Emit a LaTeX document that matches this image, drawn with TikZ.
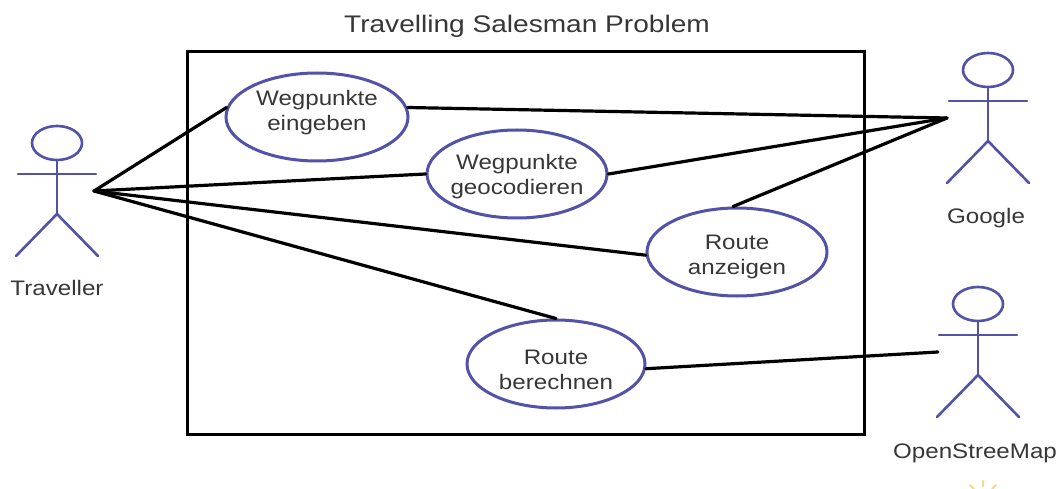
\documentclass[tikz,border=0pt]{standalone}
\usepackage{fontspec}
\setmainfont{Liberation Sans}
\newfontfamily\lblfont[FakeStretch=1.15]{Liberation Sans}
\newfontfamily\ttlfont[FakeStretch=1.17]{Liberation Sans}
\usetikzlibrary{shapes.geometric}
\definecolor{umlblue}{RGB}{82,82,168}
\definecolor{lbl}{RGB}{55,55,55}
\definecolor{sunc}{RGB}{250,215,130}
\tikzset{
  usecase/.style={ellipse,draw=umlblue,line width=3pt,fill=white,minimum width=#1,minimum height=88pt,inner sep=0pt},
  usecase/.default=180pt,
  uctext/.style={align=center,text=lbl,inner sep=0pt,font=\lblfont\fontsize{21}{25}\selectfont},
  link/.style={draw=black,line width=3.2pt,line cap=round},
  limb/.style={draw=umlblue,line width=2.6pt,line cap=round},
  actorlabel/.style={text=lbl,font=\lblfont\fontsize{21}{24}\selectfont,inner sep=0pt,anchor=center},
  frame/.style={draw=black,line width=3pt,fill=none},
}
\newcommand{\stick}[4]{% name, head x, head y, unused
  \node[ellipse,limb,minimum width=50pt,minimum height=34pt,inner sep=0pt] (#1head) at (#2,#3) {};
  \coordinate (#1hip) at (#2,#3+71);
  \coordinate (#1la) at (#2-39,#3+31);
  \coordinate (#1ra) at (#2+39,#3+31);
  \coordinate (#1ll) at (#2-41,#3+113);
  \coordinate (#1rl) at (#2+41,#3+113);
  \draw[limb] (#1head.south) -- (#1hip);
  \draw[limb] (#1la) -- (#1ra);
  \draw[limb] (#1ll) -- (#1hip) -- (#1rl);
}
\begin{document}
\begin{tikzpicture}[x=1pt,y=-1pt]
\useasboundingbox (0,0) rectangle (1058,489);
\fill[white] (0,0) rectangle (1058,489);
\node[frame,minimum width=677pt,minimum height=382pt,inner sep=0pt] (sys) at (525.5,243) {};
\node[text=lbl,font=\ttlfont\fontsize{24}{27}\selectfont,inner sep=0pt] (title) at (527,26) {Travelling Salesman Problem};

\coordinate (thub) at (94,191);
\coordinate (ghub) at (947,118);
\coordinate (ohub) at (938,352);

\node[usecase=182pt] (uc1) at (317,117) {};
\node[usecase=180pt] (uc2) at (517,174) {};
\node[usecase=180pt] (uc3) at (737,252) {};
\node[usecase=178pt] (uc4) at (556,364) {};
\node[uctext] (uc1t) at (317,112.5) {Wegpunkte\\eingeben};
\node[uctext] (uc2t) at (517,176.5) {Wegpunkte\\geocodieren};
\node[uctext] (uc3t) at (737,257) {Route\\anzeigen};
\node[uctext] (uc4t) at (556,370) {Route\\berechnen};

\draw[link] (thub) -- (uc1.174);
\draw[link] (thub) -- (uc2.west);
\draw[link] (thub) -- (uc3.182.6);
\draw[link] (thub) -- (uc4.north);
\draw[link] (ghub) -- (uc1.6);
\draw[link] (ghub) -- (uc2.east);
\draw[link] (ghub) -- (uc3.95);
\draw[link] (ohub) -- (uc4.357);

\stick{trav}{57}{143}{}
\stick{goog}{988}{70}{}
\stick{osm}{978}{304}{}
\node[actorlabel] (ltrav) at (57,288) {Traveller};
\node[actorlabel] (lgoog) at (986,218) {Google};
\node[actorlabel] (losm) at (975,453) {OpenStreeMap};

\begin{scope}
\clip (0,0) rectangle (1058,489);
\draw[sunc,line width=2pt,line cap=round] (983,486) -- (983,481) (974,489) -- (970,485) (992,489) -- (996,485);
\end{scope}
\end{tikzpicture}
\end{document}
